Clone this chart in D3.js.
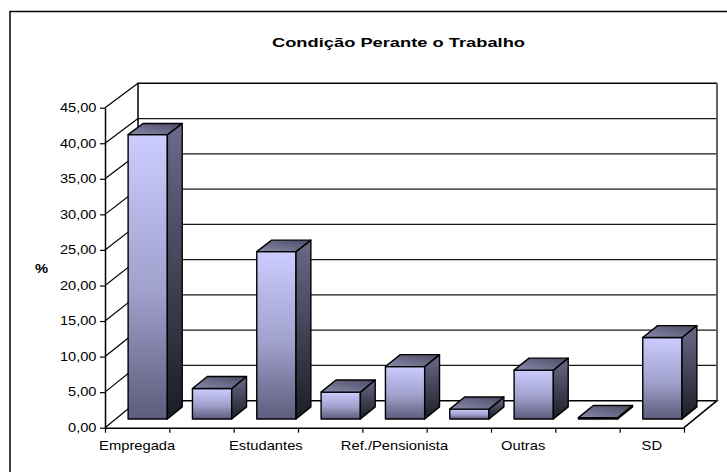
<!DOCTYPE html>
<html>
<head>
<meta charset="utf-8">
<script src="https://cdn.jsdelivr.net/npm/d3@7"></script>
<style>
  body { margin: 0; background: #fff; }
  svg { display: block; }
  text { font-family: "Liberation Sans", Arial, sans-serif; fill: #000; }
</style>
</head>
<body>
<div id="chart"></div>
<script>
// chart data
const title = "Condição Perante o Trabalho";
const yLabel = "%";
// 9 categories; Excel only printed every other label
const categoryLabels = ["Empregada", "", "Estudantes", "", "Ref./Pensionista", "", "Outras", "", "SD"];
const values = [40.1, 4.3, 23.6, 3.8, 7.4, 1.4, 6.9, 0.2, 11.5];
const yTicks = [0, 5, 10, 15, 20, 25, 30, 35, 40, 45];

const width = 727;
const height = 472;

// front plane and depth offset of the 3D box
const plotLeft = 105;
const plotRight = 684;
const depthX = 33;
const barDepth = [0.32, 0.77];
const textStretch = 1.18; // the original text is drawn a bit wide

const fmt = d3.formatLocale({ decimal: ",", thousands: ".", grouping: [3], currency: ["", ""] }).format(".2f");

const svg = d3
  .select("#chart")
  .append("svg")
  .attr("width", width)
  .attr("height", height);

const defs = svg.append("defs");

function addGradient(id, x1, y1, x2, y2, stops) {
  const g = defs
    .append("linearGradient")
    .attr("id", id)
    .attr("x1", x1)
    .attr("y1", y1)
    .attr("x2", x2)
    .attr("y2", y2);
  stops.forEach((s) => {
    g.append("stop").attr("offset", s[0]).attr("stop-color", s[1]);
  });
}

addGradient("gradFront", "0", "0", "0", "1", [["0%", "#ccccff"], ["55%", "#a0a0cc"], ["100%", "#5c5c7c"]]);
addGradient("gradSide", "0", "0", "0", "1", [["0%", "#6a6a8a"], ["100%", "#1c1c26"]]);
addGradient("gradTop", "0", "1", "1", "0", [["0%", "#8a8aaa"], ["100%", "#4a4a66"]]);

// scales
const yFront = d3.scaleLinear().domain([0, 45]).range([427.7, 107.7]);
const yBack = d3.scaleLinear().domain([0, 45]).range([400.7, 83.3]);
const xIndex = d3.scaleLinear().domain([0, values.length]).range([plotLeft, plotRight]);
const xBand = d3
  .scaleBand()
  .domain(d3.range(values.length))
  .range([plotLeft, plotRight])
  .paddingInner(0.39)
  .paddingOuter(0.195);

// project a point (front x, value, depth 0..1) into the picture
function pt(x, v, d) {
  return [x + d * depthX, yFront(v) + d * (yBack(v) - yFront(v))];
}

const line = d3.line();

// outer chart border
svg
  .append("rect")
  .attr("x", 10)
  .attr("y", 11.5)
  .attr("width", 760)
  .attr("height", 500)
  .attr("fill", "#fff")
  .attr("stroke", "#000")
  .attr("stroke-width", 1.5);

// title
svg
  .append("text")
  .attr("x", 398.5)
  .attr("y", 46.5)
  .attr("text-anchor", "middle")
  .attr("font-size", 13.5)
  .attr("font-weight", "bold")
  .attr("textLength", 253)
  .attr("lengthAdjust", "spacingAndGlyphs")
  .text(title);

// back wall gridlines
const walls = svg.append("g").attr("class", "walls");

walls
  .selectAll("line.grid")
  .data(yTicks.filter((t) => t > 0 && t < 45))
  .enter()
  .append("line")
  .attr("class", "grid")
  .attr("x1", pt(plotLeft, 0, 1)[0])
  .attr("x2", pt(plotRight, 0, 1)[0])
  .attr("y1", (d) => yBack(d))
  .attr("y2", (d) => yBack(d))
  .attr("stroke", "#1a1a1a")
  .attr("stroke-width", 1.2);

// side wall gridlines
walls
  .selectAll("path.side")
  .data(yTicks)
  .enter()
  .append("path")
  .attr("class", "side")
  .attr("d", (d) => line([pt(plotLeft, d, 0), pt(plotLeft, d, 1)]))
  .attr("stroke", "#000")
  .attr("stroke-width", 1.2)
  .attr("fill", "none");

// wall and floor outlines
const outlines = [
  [pt(plotLeft, 0, 1), pt(plotLeft, 45, 1), pt(plotRight, 45, 1)],
  [pt(plotLeft, 0, 1), pt(plotRight, 0, 1), pt(plotRight, 0, 0)]
];
walls
  .selectAll("path.outline")
  .data(outlines)
  .enter()
  .append("path")
  .attr("class", "outline")
  .attr("d", (d) => line(d))
  .attr("stroke", "#000")
  .attr("stroke-width", 1.5)
  .attr("fill", "none");

walls
  .append("path")
  .attr("d", line([pt(plotRight, 45, 1), pt(plotRight, 0, 1)]))
  .attr("stroke", "#555")
  .attr("stroke-width", 1.8)
  .attr("fill", "none");

// bars
const bars = svg
  .append("g")
  .attr("class", "bars")
  .selectAll("g")
  .data(values)
  .enter()
  .append("g");

function faces(v, i) {
  const xl = xBand(i);
  const xr = xl + xBand.bandwidth();
  const d0 = barDepth[0];
  const d1 = barDepth[1];
  return {
    front: [pt(xl, 0, d0), pt(xr, 0, d0), pt(xr, v, d0), pt(xl, v, d0)],
    side: [pt(xr, 0, d0), pt(xr, 0, d1), pt(xr, v, d1), pt(xr, v, d0)],
    top: [pt(xl, v, d0), pt(xr, v, d0), pt(xr, v, d1), pt(xl, v, d1)]
  };
}

[["front", "url(#gradFront)"], ["side", "url(#gradSide)"], ["top", "url(#gradTop)"]].forEach(([face, fill]) => {
  bars
    .append("path")
    .attr("d", (d, i) => line(faces(d, i)[face]) + "Z")
    .attr("fill", fill)
    .attr("stroke", "#000")
    .attr("stroke-width", 1.4)
    .attr("stroke-linejoin", "round");
});

// y axis on the front plane
const yAxis = svg
  .append("g")
  .attr("transform", `translate(${plotLeft},0)`)
  .call(
    d3
      .axisLeft(yFront)
      .tickValues(yTicks)
      .tickFormat(fmt)
      .tickSize(5)
      .tickSizeOuter(0)
  );
yAxis.select(".domain").attr("stroke", "#000").attr("stroke-width", 1.5);
yAxis.selectAll(".tick line").attr("stroke", "#000").attr("stroke-width", 1.2);
yAxis
  .selectAll(".tick text")
  .attr("x", 0)
  .attr("transform", `translate(-8.5,0) scale(${textStretch + 0.04},1)`)
  .attr("font-family", "Liberation Sans, Arial, sans-serif")
  .attr("font-size", 12)
  .attr("fill", "#000");

// category axis along the front of the floor
const xAxis = svg
  .append("g")
  .attr("transform", `translate(0,${yFront(0)})`)
  .call(
    d3
      .axisBottom(xIndex)
      .tickValues(d3.range(values.length + 1))
      .tickFormat("")
      .tickSize(5)
      .tickSizeOuter(0)
  );
xAxis.select(".domain").attr("stroke", "#000").attr("stroke-width", 1.5);
xAxis.selectAll(".tick line").attr("stroke", "#000").attr("stroke-width", 1.2);

svg
  .append("g")
  .selectAll("text")
  .data(categoryLabels)
  .enter()
  .append("text")
  .attr("transform", (d, i) => `translate(${xBand(i) + xBand.bandwidth() / 2},450) scale(${textStretch},1)`)
  .attr("text-anchor", "middle")
  .attr("font-size", 12.5)
  .text((d) => d);

// axis title
svg
  .append("text")
  .attr("transform", `translate(41.5,272.5) scale(${textStretch},1)`)
  .attr("text-anchor", "middle")
  .attr("font-size", 12.5)
  .attr("font-weight", "bold")
  .text(yLabel);
</script>
</body>
</html>
